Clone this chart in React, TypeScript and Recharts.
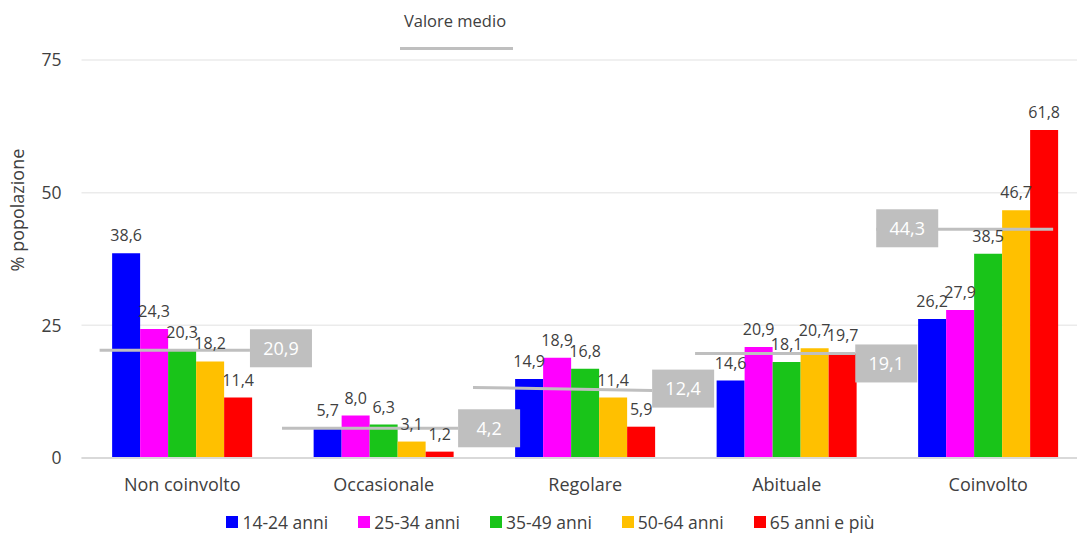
import React from 'react';
import {
  ComposedChart,
  Bar,
  Scatter,
  XAxis,
  YAxis,
  CartesianGrid,
  LabelList,
  Legend,
} from 'recharts';

const categories = ['Non coinvolto', 'Occasionale', 'Regolare', 'Abituale', 'Coinvolto'];
const seriesNames = ['14-24 anni', '25-34 anni', '35-49 anni', '50-64 anni', '65 anni e più'];
const seriesKeys = ['a', 'b', 'c', 'd', 'e'];
const seriesColors = ['#0000ff', '#ff00ff', '#19c419', '#ffc000', '#ff0000'];

const s1424 = [38.6, 5.7, 14.9, 14.6, 26.2];
const s2534 = [24.3, 8.0, 18.9, 20.9, 27.9];
const s3549 = [20.3, 6.3, 16.8, 18.1, 38.5];
const s5064 = [18.2, 3.1, 11.4, 20.7, 46.7];
const s65 = [11.4, 1.2, 5.9, 19.7, 61.8];

// average ("Valore medio") per category and the drawn segment (x in category units, y in %)
const avgValues = [20.9, 4.2, 12.4, 19.1, 44.3];
const avgLineStartX = [0.09, 0.995, 1.943, 3.045, 3.944];
const avgLineEndX = [0.836, 1.869, 2.832, 3.84, 4.822];
const avgLineStartY = [20.3, 5.6, 13.3, 19.7, 43.1];
const avgLineEndY = [20.3, 5.6, 12.7, 19.7, 43.1];
const avgLabelSide = ['end', 'end', 'end', 'end', 'start'];

const yTicks = [0, 25, 50, 75];

// style-only tweaks for the average label boxes (px)
const avgLabelDy = [-2, 0, -2, 10, -1];

const allSeries = [s1424, s2534, s3549, s5064, s65];

const data = categories.map((cat, i) => {
  const row: any = { name: cat };
  seriesKeys.forEach((k, j) => {
    row[k] = allSeries[j][i];
  });
  return row;
});

const avgSegments = categories.map((cat, i) => [
  { x: avgLineStartX[i], y: avgLineStartY[i], box: avgLabelSide[i] === 'start', value: avgValues[i], idx: i },
  { x: avgLineEndX[i], y: avgLineEndY[i], box: avgLabelSide[i] === 'end', value: avgValues[i], idx: i },
]);

const fmt = (v: any) => (typeof v === 'number' ? v.toFixed(1).replace('.', ',') : v);

const FONT = '"Open Sans", sans-serif';
const TEXT = '#404040';
const GREY = '#bfbfbf';

const BoxShape = (props: any) => {
  const { cx, cy, payload } = props;
  if (!payload || !payload.box || cx == null || cy == null) return <g />;
  const w = 62;
  const h = 38;
  const x = cx;
  const yc = cy + avgLabelDy[payload.idx];
  return (
    <g>
      <rect x={x} y={yc - h / 2} width={w} height={h} fill={GREY} />
      <text
        x={x + w / 2}
        y={yc}
        dy="0.36em"
        textAnchor="middle"
        fill="#ffffff"
        fontSize={18}
        fontFamily={FONT}
      >
        {fmt(payload.value)}
      </text>
    </g>
  );
};

const LegendContent = (props: any) => {
  const payload = (props.payload || []).filter((p: any) => p.type !== 'none');
  return (
    <div
      style={{
        display: 'flex',
        justifyContent: 'center',
        alignItems: 'center',
        height: 28,
        paddingLeft: 12,
        fontFamily: FONT,
        fontSize: 17.5,
        color: TEXT,
      }}
    >
      {payload.map((p: any, i: number) => (
        <div
          key={i}
          style={{ display: 'flex', alignItems: 'center', marginRight: i < payload.length - 1 ? 30 : 0 }}
        >
          <span style={{ width: 12, height: 12, background: p.color, display: 'inline-block', marginRight: 4 }} />
          <span style={{ lineHeight: '17px' }}>{p.value}</span>
        </div>
      ))}
    </div>
  );
};

const YLabel = (props: any) => {
  const vb = props.viewBox || {};
  const x = 18;
  const y = (vb.y || 0) + (vb.height || 0) * 0.377;
  return (
    <text
      x={x}
      y={y}
      transform={`rotate(-90, ${x}, ${y})`}
      textAnchor="middle"
      dy="0.36em"
      fill={TEXT}
      fontSize={18}
      fontFamily={FONT}
    >
      % popolazione
    </text>
  );
};

export default function App() {
  return (
    <div
      style={{
        position: 'absolute',
        left: 0,
        top: 0,
        width: 1077,
        height: 536,
        overflow: 'hidden',
        background: '#ffffff',
        fontFamily: FONT,
      }}
    >
      <div
        style={{
          position: 'absolute',
          left: 395,
          top: 9,
          width: 120,
          textAlign: 'center',
          fontSize: 16.5,
          color: TEXT,
          lineHeight: '24px',
        }}
      >
        Valore medio
      </div>
      <div style={{ position: 'absolute', left: 400, top: 47, width: 113, height: 3, background: GREY }} />
      <ComposedChart
        width={1100}
        height={536}
        data={data}
        margin={{ top: 60, right: 11, left: 0, bottom: 0 }}
        barCategoryGap="15.2%"
        barGap={0}
        style={{ fontFamily: FONT }}
      >
        <CartesianGrid vertical={false} stroke="#ebebeb" strokeWidth={1.5} />
        <XAxis
          dataKey="name"
          tickLine={false}
          axisLine={{ stroke: '#d9d9d9', strokeWidth: 2 }}
          tick={{ fill: TEXT, fontSize: 18, fontFamily: FONT }}
          tickMargin={14}
          height={50}
          interval={0}
        />
        <XAxis xAxisId="num" type="number" dataKey="x" domain={[0, 5]} allowDataOverflow hide />
        <YAxis
          domain={[0, 75]}
          ticks={yTicks}
          tickLine={false}
          axisLine={false}
          width={81.5}
          tickMargin={14}
          tick={{ fill: TEXT, fontSize: 17.5, fontFamily: FONT }}
          label={<YLabel />}
        />
        <Legend verticalAlign="bottom" height={28} content={<LegendContent />} />
        {seriesKeys.map((k, j) => (
          <Bar key={k} dataKey={k} name={seriesNames[j]} fill={seriesColors[j]} isAnimationActive={false}>
            <LabelList
              dataKey={k}
              position="top"
              offset={12}
              formatter={fmt}
              style={{ fill: TEXT, fontSize: 16, fontFamily: FONT }}
            />
          </Bar>
        ))}
        {avgSegments.map((seg, i) => (
          <Scatter
            key={'avg' + i}
            xAxisId="num"
            data={seg}
            dataKey="y"
            name={'Valore medio ' + categories[i]}
            legendType="none"
            line={{ stroke: GREY, strokeWidth: 3 }}
            shape={<BoxShape />}
            isAnimationActive={false}
          />
        ))}
      </ComposedChart>
    </div>
  );
}
